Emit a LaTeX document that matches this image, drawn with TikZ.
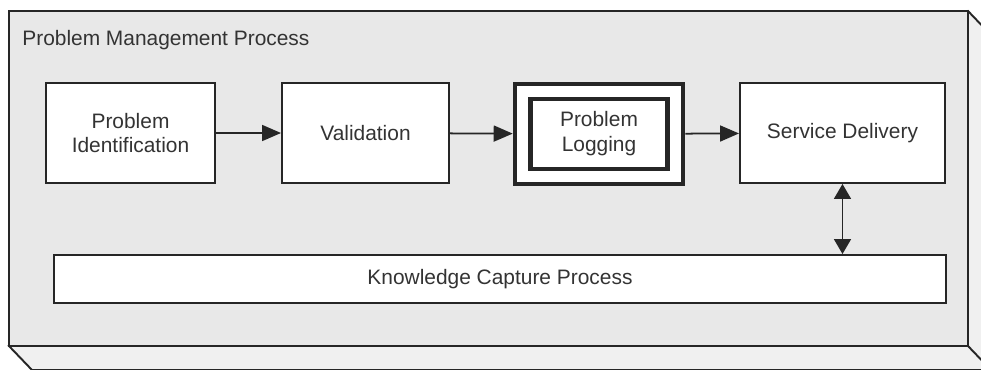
\documentclass[tikz,border=0pt]{standalone}
\usepackage{fontspec}
\setmainfont{Liberation Sans}
\usetikzlibrary{arrows.meta, positioning}

\begin{document}
\begin{tikzpicture}[
    every node/.style={font=\fontsize{11.9}{14.2}\selectfont, text=black!80},
    procbox/.style={draw=black!85, line width=1.1pt, fill=white, align=center, minimum height=2cm},
    flow/.style={-{Triangle[length=0.38cm, width=0.32cm]}, line width=1pt, draw=black!85},
    both/.style={{Triangle[length=0.3cm, width=0.34cm]}-{Triangle[length=0.3cm, width=0.34cm]}, line width=1pt, draw=black!85}
  ]
  \useasboundingbox (0,0) rectangle (19.62,-7.38);
  \clip (0,0) rectangle (19.62,-7.38);
  % frame with depth
  \filldraw[fill=black!6, draw=black!85, line width=1.1pt]
    (0.18,-6.92) -- ++(0.46,-0.48) -- (19.82,-7.40) -- (19.82,-0.70) -- (19.36,-0.22) -- cycle;
  \draw[black!85, line width=1.1pt] (19.36,-6.92) -- ++(0.46,-0.48);
  \filldraw[fill=black!9, draw=black!85, line width=1.1pt] (0.18,-0.22) rectangle (19.36,-6.92);
  \node[anchor=base west, inner sep=0pt] (title) at (0.44,-0.90) {Problem Management Process};

  % process steps
  \node[procbox, minimum width=3.38cm] (ident) at (2.61,-2.66) {Problem\\Identification};
  \node[procbox, minimum width=3.34cm] (valid) at (7.31,-2.66) {Validation};
  \node[procbox, line width=2.6pt, minimum width=3.36cm, minimum height=2.0cm] (logging) at (11.98,-2.68) {};
  \node[procbox, line width=2.6pt, minimum width=2.74cm, minimum height=1.4cm] (loginner) at (logging) {Problem\\Logging};
  \node[procbox, minimum width=4.1cm] (service) at (16.85,-2.66) {Service Delivery};
  \node[procbox, minimum width=17.84cm, minimum height=0.96cm] (know) at (10.0,-5.58) {Knowledge Capture Process};

  \draw[flow] (ident) -- (valid);
  \draw[flow] (valid) -- (logging);
  \draw[flow] (logging) -- (service);
  \draw[both] (service.south) -- (service.south |- know.north);
\end{tikzpicture}
\end{document}
